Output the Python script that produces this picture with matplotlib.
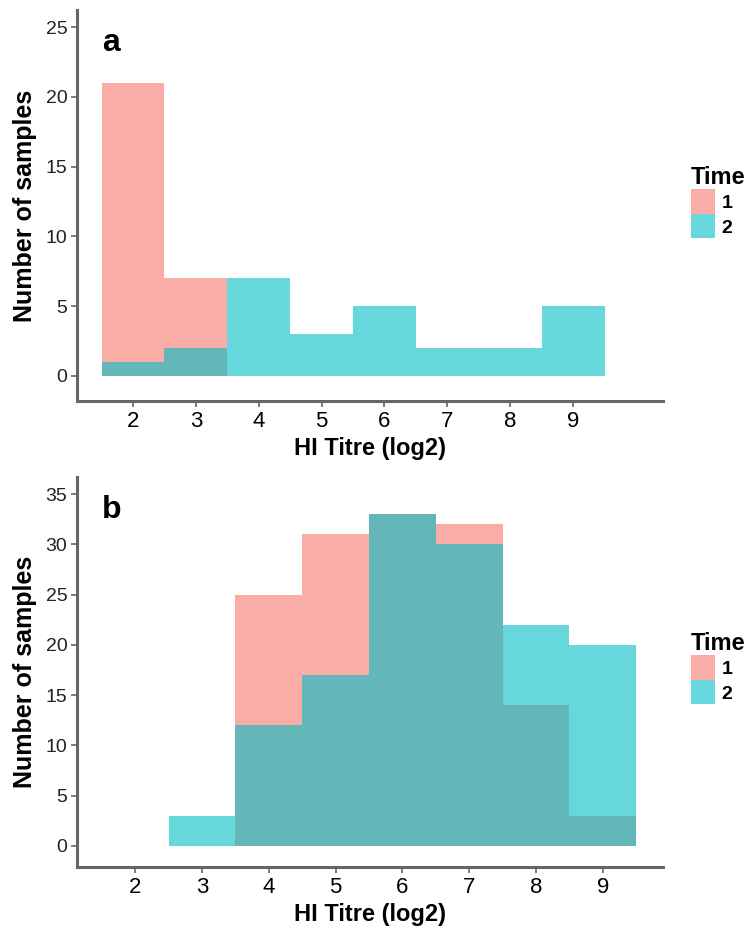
import matplotlib
matplotlib.use("Agg")
import matplotlib.pyplot as plt
from matplotlib.patches import Patch

plt.rcParams['font.family'] = ['Liberation Sans', 'DejaVu Sans']

# HI titre bins (log2)
titres = [2, 3, 4, 5, 6, 7, 8, 9]

# panel a counts
a_time1 = [21, 7, 0, 0, 0, 0, 0, 0]
a_time2 = [1, 2, 7, 3, 5, 2, 2, 5]

# panel b counts
b_time1 = [0, 0, 25, 31, 33, 32, 14, 3]
b_time2 = [0, 3, 12, 17, 33, 30, 22, 20]

col1 = '#F8766D'
col2 = '#00BFC4'
axis_col = '#666666'

fig = plt.figure(figsize=(7.5, 9.32), dpi=100)


def panel(rect, t1, t2, ylim, xlim, yticks, letter, legend_y):
    ax = fig.add_axes(rect)
    ax.bar(titres, t1, width=1.0, color=col1, alpha=0.6, linewidth=0)
    ax.bar(titres, t2, width=1.0, color=col2, alpha=0.6, linewidth=0)
    ax.set_xlim(*xlim)
    ax.set_ylim(*ylim)
    ax.set_xticks(titres)
    ax.set_yticks(yticks)
    ax.tick_params(axis='x', labelsize=16, length=4, width=1.2, color=axis_col, pad=3)
    ax.tick_params(axis='y', labelsize=14, length=4, width=1.2, color=axis_col, pad=3,
                   labelcolor='#222222')
    for s in ['top', 'right']:
        ax.spines[s].set_visible(False)
    for s in ['left', 'bottom']:
        ax.spines[s].set_color(axis_col)
        ax.spines[s].set_linewidth(2.2)
    ax.set_xlabel('HI Titre (log2)', fontsize=17, fontweight='bold', labelpad=4)
    ax.set_ylabel('Number of samples', fontsize=18, fontweight='bold', labelpad=6)
    ax.text(0.043, 0.955, letter, transform=ax.transAxes, fontsize=23,
            fontweight='bold', va='top', ha='left')
    handles = [Patch(facecolor=col1, alpha=0.6, edgecolor='none', label='1'),
               Patch(facecolor=col2, alpha=0.6, edgecolor='none', label='2')]
    leg = fig.legend(handles=handles, title='Time', loc='upper left',
                     bbox_to_anchor=(0.921, legend_y), frameon=False,
                     prop={'weight': 'bold', 'size': 14},
                     title_fontproperties={'weight': 'bold', 'size': 17},
                     handlelength=1.25, handleheight=1.55, handletextpad=0.35,
                     labelspacing=0.02, borderpad=0, borderaxespad=0)
    leg._legend_box.align = 'left'
    return ax


panel([0.1027, 0.5697, 0.7813, 0.4193], a_time1, a_time2,
      (-1.8, 26.2), (1.11, 10.43), [0, 5, 10, 15, 20, 25], 'a', 0.822)
panel([0.1027, 0.0697, 0.7813, 0.4185], b_time1, b_time2,
      (-2.1, 36.7), (1.13, 9.9), [0, 5, 10, 15, 20, 25, 30, 35], 'b', 0.322)

fig.savefig('out.png', dpi=100)
